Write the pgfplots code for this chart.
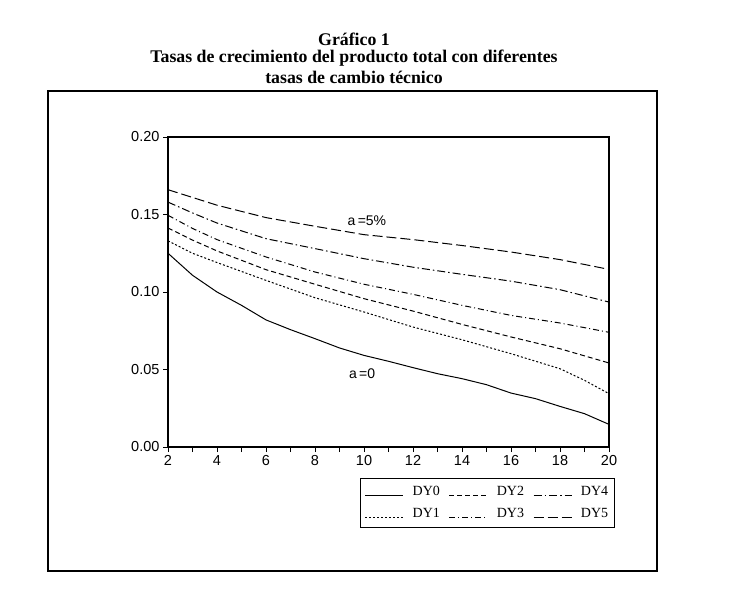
\documentclass[border=0pt]{standalone}
\usepackage{fontspec}
\setmainfont{Liberation Serif}
\setsansfont{Liberation Sans}
\usepackage{pgfplots}
\pgfplotsset{compat=1.18}
\begin{document}
\begin{tikzpicture}[x=1pt,y=1pt]
\path[use as bounding box] (0,0) rectangle (731,614);
\draw[line width=1.8pt] (48,43) rectangle (657,523);
\node[font=\fontsize{17.8}{19}\selectfont\bfseries] at (354,575) {Gráfico 1};
\node[font=\fontsize{17.8}{19}\selectfont\bfseries] at (354,556) {Tasas de crecimiento del producto total con diferentes};
\node[font=\fontsize{17.8}{19}\selectfont\bfseries] at (354,537) {tasas de cambio técnico};
\begin{axis}[
  at={(168pt,167pt)}, anchor=south west,
  scale only axis, width=441pt, height=310pt,
  xmin=2, xmax=20, ymin=0, ymax=0.2,
  xtick={2,4,...,20}, minor xtick={3,5,...,19},
  ytick={0,0.05,0.10,0.15,0.20},
  yticklabel style={/pgf/number format/.cd,fixed,fixed zerofill,precision=2},
  /pgf/number format/assume math mode=true,
  tick label style={font=\fontsize{14.5}{16}\selectfont\sffamily},
  xtick pos=bottom, ytick pos=left, tick align=outside,
  major tick length=5pt, minor tick length=5pt,
  axis line style={line width=1.3pt},
  every tick/.style={black, line width=1pt},
  legend style={at={(0.7245,-0.1)}, anchor=north, draw=black, line width=1pt,
    font=\fontsize{14}{16}\selectfont, column sep=7pt, row sep=7pt,
    inner xsep=4pt, inner ysep=6pt, cells={anchor=west}},
  legend columns=2, transpose legend,
  legend image code/.code={\draw[#1, line width=0.9pt] (0pt,-4pt) -- (38pt,-4pt);},
  every axis plot/.append style={black, line width=1pt, no marks},
]
\addplot[solid] coordinates {(2,0.125)(3,0.1108)(4,0.100)(5,0.0914)(6,0.082)(7,0.0757)(8,0.0699)(9,0.0639)(10,0.0591)(11,0.0553)(12,0.0512)(13,0.0473)(14,0.0441)(15,0.0402)(16,0.0348)(17,0.0312)(18,0.0262)(19,0.0215)(20,0.0146)};
\addlegendentry{DY0}
\addplot[dash pattern=on 2pt off 2pt] coordinates {(2,0.133)(3,0.125)(4,0.119)(6,0.1075)(8,0.0963)(10,0.0871)(12,0.0774)(14,0.0692)(16,0.0602)(18,0.0505)(19,0.043)(20,0.0344)};
\addlegendentry{DY1}
\addplot[dash pattern=on 5pt off 3pt] coordinates {(2,0.1413)(3,0.1335)(4,0.1265)(6,0.1144)(8,0.105)(10,0.0957)(12,0.0877)(14,0.0791)(16,0.071)(18,0.0634)(20,0.0542)};
\addlegendentry{DY2}
\addplot[dash pattern=on 6pt off 3pt on 1pt off 3pt] coordinates {(2,0.1495)(3,0.141)(4,0.1338)(6,0.1226)(8,0.1129)(10,0.105)(12,0.0985)(14,0.0914)(16,0.0849)(18,0.080)(20,0.074)};
\addlegendentry{DY3}
\addplot[dash pattern=on 8pt off 3pt on 1.5pt off 3pt] coordinates {(2,0.158)(3,0.151)(4,0.1445)(6,0.1344)(8,0.128)(10,0.1215)(12,0.116)(14,0.1114)(16,0.107)(18,0.1015)(20,0.0935)};
\addlegendentry{DY4}
\addplot[dash pattern=on 10pt off 4pt] coordinates {(2,0.166)(3,0.161)(4,0.156)(6,0.148)(8,0.1424)(10,0.137)(12,0.1338)(14,0.130)(16,0.1258)(18,0.1209)(20,0.1146)};
\addlegendentry{DY5}
\node[font=\fontsize{14}{16}\selectfont\sffamily] at (axis cs:10.12,0.146) {a\,=5\%};
\node[font=\fontsize{14}{16}\selectfont\sffamily] at (axis cs:9.92,0.0473) {a\,=0};
\end{axis}
\end{tikzpicture}
\end{document}
